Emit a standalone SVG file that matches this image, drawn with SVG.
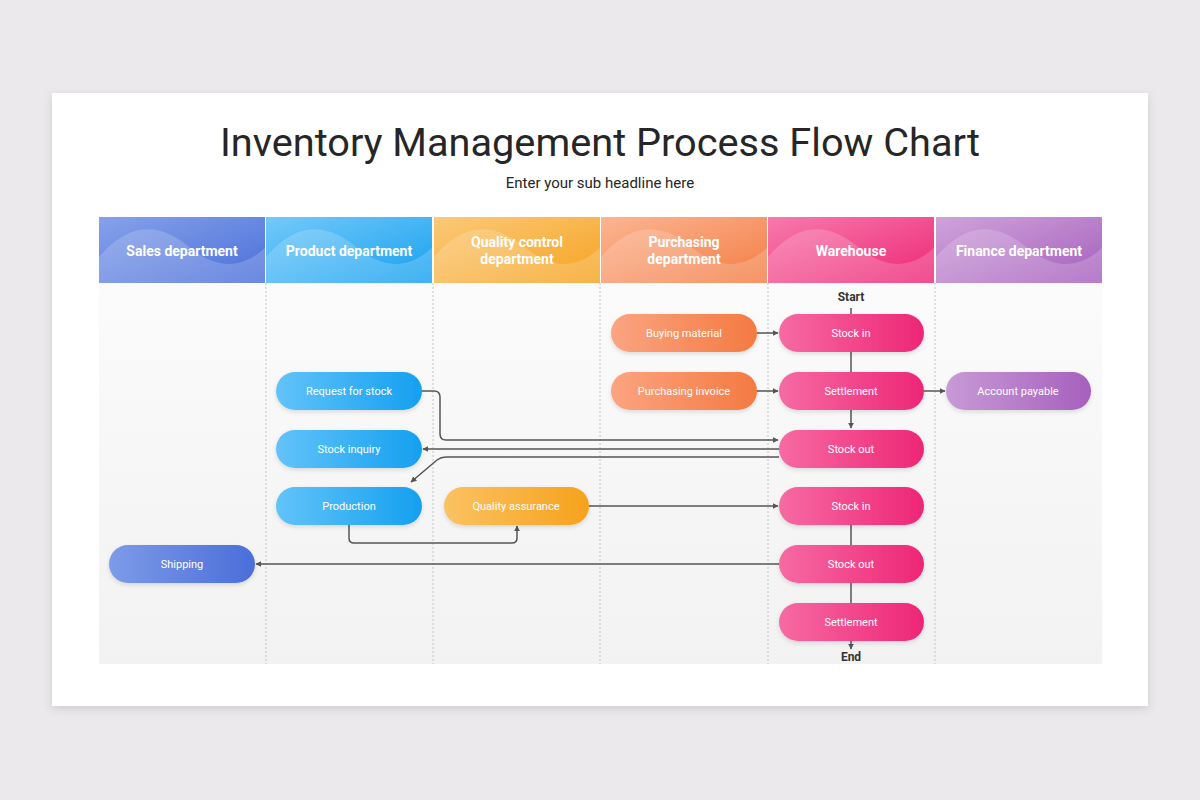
<svg xmlns="http://www.w3.org/2000/svg" width="1200" height="800" viewBox="0 0 1200 800">
<defs>
<linearGradient id="gSales" x1="0" y1="0" x2="1" y2="1"><stop offset="0" stop-color="#86a2ea"/><stop offset="1" stop-color="#4a6fd9"/></linearGradient>
<linearGradient id="gProd" x1="0" y1="0" x2="1" y2="1"><stop offset="0" stop-color="#74c9f9"/><stop offset="1" stop-color="#17a1f0"/></linearGradient>
<linearGradient id="gQC" x1="0" y1="0" x2="1" y2="1"><stop offset="0" stop-color="#fbc979"/><stop offset="1" stop-color="#f6a320"/></linearGradient>
<linearGradient id="gPur" x1="0" y1="0" x2="1" y2="1"><stop offset="0" stop-color="#fbb592"/><stop offset="1" stop-color="#f47d45"/></linearGradient>
<linearGradient id="gWh" x1="0" y1="0" x2="1" y2="1"><stop offset="0" stop-color="#f77aab"/><stop offset="1" stop-color="#ee2777"/></linearGradient>
<linearGradient id="gFin" x1="0" y1="0" x2="1" y2="1"><stop offset="0" stop-color="#cfa3da"/><stop offset="1" stop-color="#a65fbd"/></linearGradient>
<linearGradient id="nSales" x1="0" y1="0" x2="1" y2="0"><stop offset="0" stop-color="#7d9be8"/><stop offset="1" stop-color="#4a6ed9"/></linearGradient>
<linearGradient id="nProd" x1="0" y1="0" x2="1" y2="0"><stop offset="0" stop-color="#62c3f9"/><stop offset="1" stop-color="#15a0f0"/></linearGradient>
<linearGradient id="nQC" x1="0" y1="0" x2="1" y2="0"><stop offset="0" stop-color="#fbc262"/><stop offset="1" stop-color="#f6a21c"/></linearGradient>
<linearGradient id="nPur" x1="0" y1="0" x2="1" y2="0"><stop offset="0" stop-color="#fba481"/><stop offset="1" stop-color="#f47a41"/></linearGradient>
<linearGradient id="nWh" x1="0" y1="0" x2="1" y2="0"><stop offset="0" stop-color="#f66aa3"/><stop offset="1" stop-color="#ee2676"/></linearGradient>
<linearGradient id="nFin" x1="0" y1="0" x2="1" y2="0"><stop offset="0" stop-color="#c89ad5"/><stop offset="1" stop-color="#a660be"/></linearGradient>
<linearGradient id="body" x1="0" y1="0" x2="0" y2="1"><stop offset="0" stop-color="#fbfbfb"/><stop offset="1" stop-color="#f2f2f2"/></linearGradient>
<filter id="shadow" x="-5%" y="-5%" width="110%" height="115%"><feDropShadow dx="0" dy="3" stdDeviation="5" flood-color="#000" flood-opacity="0.12"/></filter>
<filter id="nshadow" x="-10%" y="-20%" width="120%" height="160%"><feDropShadow dx="0" dy="2" stdDeviation="2" flood-color="#000" flood-opacity="0.12"/></filter>
<marker id="arr" viewBox="0 0 10 10" refX="9" refY="5" markerWidth="6" markerHeight="6" orient="auto-start-reverse" markerUnits="userSpaceOnUse"><path d="M0,0 L10,5 L0,10 z" fill="#555"/></marker>
<path id="wave" d="M0,66 L0,40 C30,5 60,5 90,30 C115,50 140,55 167,30 L167,66 Z"/>
</defs>
<style>
.hd{font-family:Roboto,"Liberation Sans",sans-serif;font-weight:bold;font-size:14px;fill:#fff;text-anchor:middle}
.nt{font-family:Roboto,"Liberation Sans",sans-serif;font-size:11px;fill:#fff;text-anchor:middle}
.lbl{font-family:Roboto,"Liberation Sans",sans-serif;font-weight:bold;font-size:12px;fill:#333;text-anchor:middle}
.cn{fill:none;stroke:#555;stroke-width:1.5}
.lane{stroke:#c4c4c4;stroke-width:1;stroke-dasharray:2 2}
.wv{fill:#fff;opacity:0.18}
</style>
<rect x="0" y="0" width="1200" height="800" fill="#ebe9eb"/>
<rect x="52" y="93" width="1096" height="613" fill="#fff" filter="url(#shadow)"/>
<text x="600" y="156" font-family="Roboto, 'Liberation Sans', sans-serif" font-size="39.7" fill="#262626" text-anchor="middle">Inventory Management Process Flow Chart</text>
<text x="600" y="188" font-family="Roboto, 'Liberation Sans', sans-serif" font-size="15" fill="#262626" text-anchor="middle">Enter your sub headline here</text>
<rect x="99" y="283" width="1003" height="381" fill="url(#body)"/>
<g id="lanes">
<line class="lane" x1="266" y1="283" x2="266" y2="664"/>
<line class="lane" x1="433" y1="283" x2="433" y2="664"/>
<line class="lane" x1="600" y1="283" x2="600" y2="664"/>
<line class="lane" x1="768" y1="283" x2="768" y2="664"/>
<line class="lane" x1="935" y1="283" x2="935" y2="664"/>
</g>
<g id="headers">
<g id="h-sales"><rect x="99" y="217" width="166" height="66" fill="url(#gSales)"/><use href="#wave" x="99" y="217" class="wv"/><text class="hd" x="182" y="256">Sales department</text></g>
<g id="h-product"><rect x="266" y="217" width="166" height="66" fill="url(#gProd)"/><use href="#wave" x="266" y="217" class="wv"/><text class="hd" x="349" y="256">Product department</text></g>
<g id="h-qc"><rect x="434" y="217" width="166" height="66" fill="url(#gQC)"/><use href="#wave" x="434" y="217" class="wv"/><text class="hd" x="517" y="247">Quality control</text><text class="hd" x="517" y="264">department</text></g>
<g id="h-purchasing"><rect x="601" y="217" width="166" height="66" fill="url(#gPur)"/><use href="#wave" x="601" y="217" class="wv"/><text class="hd" x="684" y="247">Purchasing</text><text class="hd" x="684" y="264">department</text></g>
<g id="h-warehouse"><rect x="768" y="217" width="166" height="66" fill="url(#gWh)"/><use href="#wave" x="768" y="217" class="wv"/><text class="hd" x="851" y="256">Warehouse</text></g>
<g id="h-finance"><rect x="936" y="217" width="166" height="66" fill="url(#gFin)"/><use href="#wave" x="936" y="217" class="wv"/><text class="hd" x="1019" y="256">Finance department</text></g>
</g>
<text class="lbl" x="851" y="301">Start</text>
<text class="lbl" x="851" y="661">End</text>
<g id="connectors">
<line class="cn" x1="851" y1="308" x2="851" y2="314"/>
<line class="cn" x1="851" y1="352" x2="851" y2="372"/>
<line class="cn" x1="851" y1="410" x2="851" y2="428" marker-end="url(#arr)"/>
<line class="cn" x1="851" y1="525" x2="851" y2="545"/>
<line class="cn" x1="851" y1="583" x2="851" y2="603"/>
<line class="cn" x1="851" y1="641" x2="851" y2="649" marker-end="url(#arr)"/>
<line class="cn" x1="757" y1="333" x2="778" y2="333" marker-end="url(#arr)"/>
<line class="cn" x1="757" y1="391" x2="778" y2="391" marker-end="url(#arr)"/>
<line class="cn" x1="924" y1="391" x2="945" y2="391" marker-end="url(#arr)"/>
<path class="cn" d="M422,391 H434 Q440,391 440,397 V434 Q440,440 446,440 H778" marker-end="url(#arr)"/>
<line class="cn" x1="779" y1="449" x2="423" y2="449" marker-end="url(#arr)"/>
<path class="cn" d="M779,457 H446 Q441,457 437,460 L411,482" marker-end="url(#arr)"/>
<path class="cn" d="M349,525 V538 Q349,543 354,543 H512 Q517,543 517,538 V526" marker-end="url(#arr)"/>
<line class="cn" x1="589" y1="506" x2="778" y2="506" marker-end="url(#arr)"/>
<line class="cn" x1="779" y1="564" x2="256" y2="564" marker-end="url(#arr)"/>
</g>
<g id="n-buying"><rect x="611" y="314" width="146" height="38" rx="19" fill="url(#nPur)" filter="url(#nshadow)"/><text class="nt" x="684" y="337">Buying material</text></g>
<g id="n-purinv"><rect x="611" y="372" width="146" height="38" rx="19" fill="url(#nPur)" filter="url(#nshadow)"/><text class="nt" x="684" y="395">Purchasing invoice</text></g>
<g id="n-stockin1"><rect x="779" y="314" width="145" height="38" rx="19" fill="url(#nWh)" filter="url(#nshadow)"/><text class="nt" x="851" y="337">Stock in</text></g>
<g id="n-settle1"><rect x="779" y="372" width="145" height="38" rx="19" fill="url(#nWh)" filter="url(#nshadow)"/><text class="nt" x="851" y="395">Settlement</text></g>
<g id="n-stockout1"><rect x="779" y="430" width="145" height="38" rx="19" fill="url(#nWh)" filter="url(#nshadow)"/><text class="nt" x="851" y="453">Stock out</text></g>
<g id="n-stockin2"><rect x="779" y="487" width="145" height="38" rx="19" fill="url(#nWh)" filter="url(#nshadow)"/><text class="nt" x="851" y="510">Stock in</text></g>
<g id="n-stockout2"><rect x="779" y="545" width="145" height="38" rx="19" fill="url(#nWh)" filter="url(#nshadow)"/><text class="nt" x="851" y="568">Stock out</text></g>
<g id="n-settle2"><rect x="779" y="603" width="145" height="38" rx="19" fill="url(#nWh)" filter="url(#nshadow)"/><text class="nt" x="851" y="626">Settlement</text></g>
<g id="n-account"><rect x="946" y="372" width="145" height="38" rx="19" fill="url(#nFin)" filter="url(#nshadow)"/><text class="nt" x="1018" y="395">Account payable</text></g>
<g id="n-request"><rect x="276" y="372" width="146" height="38" rx="19" fill="url(#nProd)" filter="url(#nshadow)"/><text class="nt" x="349" y="395">Request for stock</text></g>
<g id="n-inquiry"><rect x="276" y="430" width="146" height="38" rx="19" fill="url(#nProd)" filter="url(#nshadow)"/><text class="nt" x="349" y="453">Stock inquiry</text></g>
<g id="n-production"><rect x="276" y="487" width="146" height="38" rx="19" fill="url(#nProd)" filter="url(#nshadow)"/><text class="nt" x="349" y="510">Production</text></g>
<g id="n-qa"><rect x="444" y="487" width="145" height="38" rx="19" fill="url(#nQC)" filter="url(#nshadow)"/><text class="nt" x="516" y="510">Quality assurance</text></g>
<g id="n-shipping"><rect x="109" y="545" width="146" height="38" rx="19" fill="url(#nSales)" filter="url(#nshadow)"/><text class="nt" x="182" y="568">Shipping</text></g>
</svg>
